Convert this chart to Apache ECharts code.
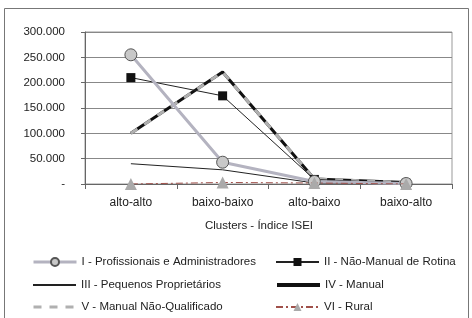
<!DOCTYPE html>
<html><head><meta charset="utf-8">
<script src="https://cdn.jsdelivr.net/npm/echarts@6/dist/echarts.min.js"></script>
<style>html,body{margin:0;padding:0;background:#fff}#c{width:472px;height:318px}</style>
</head><body><div id="c"></div>
<script>
var categories = ['alto-alto', 'baixo-baixo', 'alto-baixo', 'baixo-alto'];
var seriesNames = ['I - Profissionais e Administradores', 'II - Não-Manual de Rotina', 'III - Pequenos Proprietários', 'IV - Manual', 'V - Manual Não-Qualificado', 'VI - Rural'];
var valuesI = [255000, 43000, 5000, 1000];
var valuesII = [210000, 174000, 9000, 1500];
var valuesIII = [40000, 28000, 2000, 500];
var valuesIV = [100000, 221000, 10000, 3000];
var valuesV = [100000, 221000, 10000, 3000];
var valuesVI = [0, 3000, 2000, 0];
var yTicks = [0, 50000, 100000, 150000, 200000, 250000, 300000];

var FONT = '"Liberation Sans", Arial, sans-serif';
function fmt(v) {
  if (v === 0) return '-';
  var s = String(Math.round(v));
  return s.replace(/\B(?=(\d{3})+(?!\d))/g, '.');
}
var chart = echarts.init(document.getElementById('c'));
function leg(name, left, top, hideSym, lw) {
  var d = {name: name};
  if (hideSym) d.itemStyle = {opacity: 0};
  if (lw) d.lineStyle = {width: lw};
  return {
    data: [d], left: left, top: top, itemWidth: 43, itemHeight: 10, itemGap: 0,
    padding: 0, textStyle: {fontFamily: FONT, fontSize: 11.5, color: '#222'}
  };
}
chart.setOption({
  animation: false,
  textStyle: {fontFamily: FONT},
  graphic: [
    {type: 'rect', shape: {x: 4.5, y: 8.5, width: 464, height: 330}, style: {fill: 'none', stroke: '#777', lineWidth: 1}},
    {type: 'text', left: 205, top: 220, style: {text: 'Clusters - Índice ISEI', font: '11.5px ' + FONT, fill: '#222'}}
  ],
  grid: {left: 85, right: 20, top: 32, bottom: 134, show: true, borderColor: '#999', borderWidth: 1},
  legend: [
    leg(seriesNames[0], 32, 256, false, 3),
    leg(seriesNames[1], 275, 256, false, 0),
    leg(seriesNames[2], 32, 279, true, 0),
    leg(seriesNames[3], 275, 279, true, 4),
    leg(seriesNames[4], 32, 301, true, 3),
    leg(seriesNames[5], 275, 301, false, 0)
  ],
  xAxis: {
    type: 'category', data: categories, boundaryGap: true,
    axisLine: {lineStyle: {color: '#666'}},
    axisTick: {show: true, length: 5, lineStyle: {color: '#666'}},
    axisLabel: {fontFamily: FONT, fontSize: 12, color: '#222', margin: 13}
  },
  yAxis: {
    type: 'value', min: 0, max: 300000, interval: 50000,
    axisLine: {show: true, lineStyle: {color: '#666'}},
    axisTick: {show: true, length: 4, lineStyle: {color: '#666'}},
    splitLine: {lineStyle: {color: '#888', width: 1}},
    axisLabel: {fontFamily: FONT, fontSize: 11.5, color: '#222', margin: 20, formatter: fmt}
  },
  series: [
    {name: seriesNames[3], type: 'line', data: valuesIV, symbol: 'none', z: 3,
      lineStyle: {color: '#111', width: 3}, itemStyle: {color: '#111'}},
    {name: seriesNames[4], type: 'line', data: valuesV, symbol: 'none', z: 4,
      lineStyle: {color: '#b0b0b0', width: 3, type: [8, 8]}, itemStyle: {color: '#b0b0b0'}},
    {name: seriesNames[2], type: 'line', data: valuesIII, symbol: 'none', z: 3,
      lineStyle: {color: '#222', width: 1}, itemStyle: {color: '#222'}},
    {name: seriesNames[1], type: 'line', data: valuesII, symbol: 'rect', symbolSize: 9, z: 5,
      lineStyle: {color: '#222', width: 1}, itemStyle: {color: '#111'}},
    {name: seriesNames[0], type: 'line', data: valuesI, symbol: 'circle', symbolSize: 12, z: 6,
      lineStyle: {color: '#b4b3c0', width: 3}, itemStyle: {color: '#c8c8c8', borderColor: '#555', borderWidth: 1}},
    {name: seriesNames[5], type: 'line', data: valuesVI, symbol: 'triangle', symbolSize: 12, z: 7,
      lineStyle: {color: '#a0504a', width: 1, type: [7, 3, 2, 3]}, itemStyle: {color: '#aaa'}}
  ]
});
</script></body></html>
